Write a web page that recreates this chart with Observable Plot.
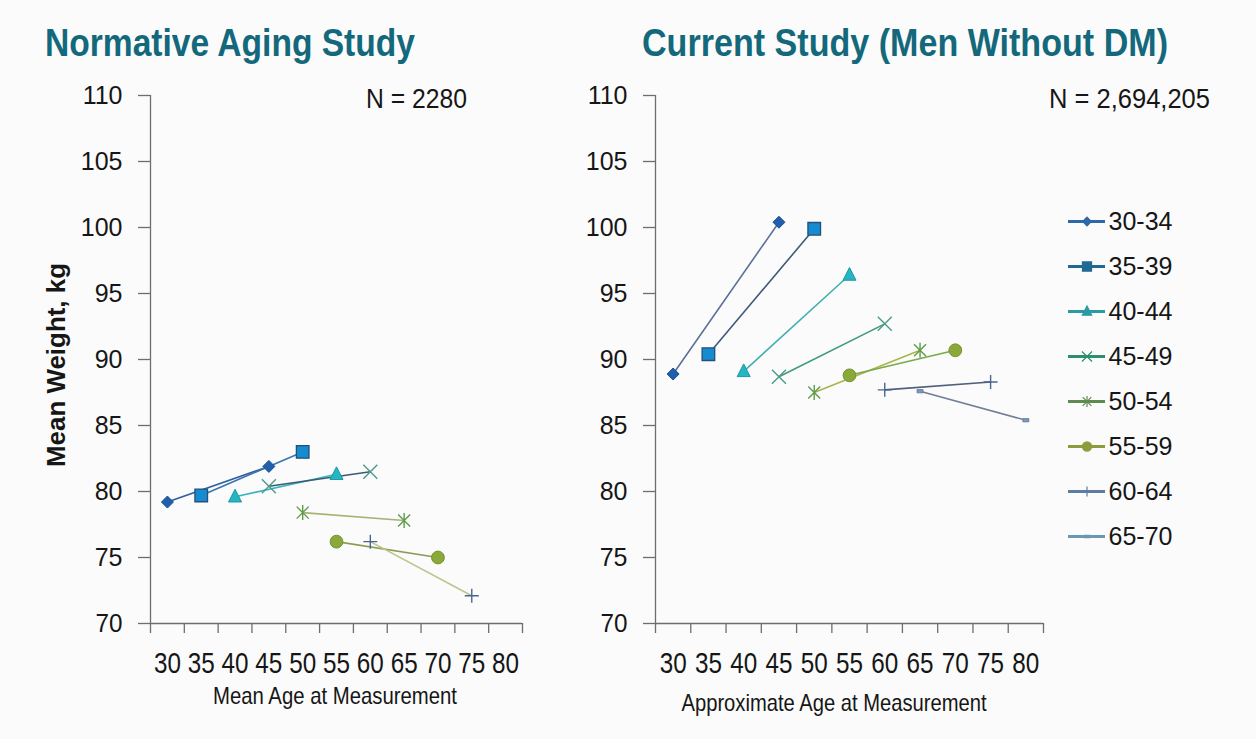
<!DOCTYPE html>
<html><head><meta charset="utf-8">
<script src="https://cdn.jsdelivr.net/npm/d3@7"></script>
<script src="https://cdn.jsdelivr.net/npm/@observablehq/plot@0.6"></script>
<style>
html,body{margin:0;padding:0;background:#fbfbfb;}
#root{position:relative;width:1256px;height:739px;overflow:hidden;background:#fbfbfb;}
</style></head>
<body><div id="root"></div>
<script>
// ---------- data ----------
const groups = ["30-34","35-39","40-44","45-49","50-54","55-59","60-64","65-70"];

const nasStartAge    = [30, 35, 40, 45, 50, 55, 60];
const nasEndAge      = [45, 50, 55, 60, 65, 70, 75];
const nasStartWeight = [79.2, 79.7, 79.6, 80.4, 78.4, 76.2, 76.2];
const nasEndWeight   = [81.9, 83.0, 81.3, 81.5, 77.8, 75.0, 72.1];

const curStartAge    = [30, 35, 40, 45, 50, 55, 60, 65];
const curEndAge      = [45, 50, 55, 60, 65, 70, 75, 80];
const curStartWeight = [88.9, 90.4, 89.1, 88.7, 87.5, 88.8, 87.7, 87.6];
const curEndWeight   = [100.4, 99.9, 96.4, 92.7, 90.7, 90.7, 88.3, 85.4];

const ageTicks    = [30, 35, 40, 45, 50, 55, 60, 65, 70, 75, 80];
const weightTicks = [70, 75, 80, 85, 90, 95, 100, 105, 110];

const panelTitles = ["Normative Aging Study", "Current Study (Men Without DM)"];
const sampleSizes = ["N = 2280", "N = 2,694,205"];
const xTitles     = ["Mean Age at Measurement", "Approximate Age at Measurement"];
const yTitle      = "Mean Weight, kg";

// ---------- styles ----------
const FONT = '"Liberation Sans", Arial, sans-serif';
const AXIS = "#6e6e6e";
const TEXT = "#161616";
const TITLE = "#13697b";

const shapes = {
  diamond:  {draw(c, s){const r=Math.sqrt(s/Math.PI); c.moveTo(0,-r); c.lineTo(r,0); c.lineTo(0,r); c.lineTo(-r,0); c.closePath();}},
  square:   {draw(c, s){const r=Math.sqrt(s/Math.PI); c.rect(-r,-r,2*r,2*r);}},
  triangle: {draw(c, s){const r=Math.sqrt(s/Math.PI); c.moveTo(0,-r*1.15); c.lineTo(r,r*0.8); c.lineTo(-r,r*0.8); c.closePath();}},
  times:    {draw(c, s){const r=Math.sqrt(s/Math.PI); c.moveTo(-r,-r); c.lineTo(r,r); c.moveTo(r,-r); c.lineTo(-r,r);}},
  asterisk: {draw(c, s){const r=Math.sqrt(s/Math.PI); const q=r*0.8; c.moveTo(-q,-q); c.lineTo(q,q); c.moveTo(q,-q); c.lineTo(-q,q); c.moveTo(0,-r); c.lineTo(0,r);}},
  circle:   {draw(c, s){const r=Math.sqrt(s/Math.PI); c.moveTo(r,0); c.arc(0,0,r,0,2*Math.PI);}},
  plus:     {draw(c, s){const r=Math.sqrt(s/Math.PI); c.moveTo(-r,0); c.lineTo(r,0); c.moveTo(0,-r); c.lineTo(0,r);}},
  bar:      {draw(c, s){const r=Math.sqrt(s/Math.PI); c.rect(-r,-r*0.55,2*r,1.1*r);}}
};
const markerStyles = [
  {shape:"diamond",  r:6,   fill:"#1f5fad", stroke:"#1a4f8f", sw:1},
  {shape:"square",   r:6.3, fill:"#168bd0", stroke:"#22507a", sw:1.3},
  {shape:"triangle", r:6.5, fill:"#25b6c2", stroke:"#1a98a4", sw:1},
  {shape:"times",    r:7,   fill:"none",    stroke:"#4d9a8a", sw:1.4},
  {shape:"asterisk", r:7.5, fill:"none",    stroke:"#5f9c4b", sw:1.4},
  {shape:"circle",   r:6.4, fill:"#8aa93a", stroke:"#76942c", sw:1},
  {shape:"plus",     r:7,   fill:"none",    stroke:"#4a6592", sw:1.4},
  {shape:"bar",      r:3,   fill:"#7d98b6", stroke:"#5f7a98", sw:0.8}
];
const nasLineColors = ["#2d5f9e","#3a73ae","#35b5c2","#3c5a72","#a9b273","#8e9b57","#bcc58c","#7a8ba0"];
const curLineColors = ["#5c7199","#405a7c","#43b0b0","#3f9b7a","#a9b54c","#7aaa4a","#4f5f7c","#6f7f94"];
const legendColors  = ["#2e68a8","#1f6a92","#2b9ba2","#2b8f70","#5f8b52","#8c9c3c","#5d7ca2","#6a97b6"];

// ---------- tables ----------
function makeRows(sa, ea, sw, ew) {
  return sa.flatMap((a, i) => [
    {group: groups[i], age: a, weight: sw[i]},
    {group: groups[i], age: ea[i], weight: ew[i]}
  ]);
}
const nasRows = makeRows(nasStartAge, nasEndAge, nasStartWeight, nasEndWeight);
const curRows = makeRows(curStartAge, curEndAge, curStartWeight, curEndWeight);

const xDomain = [ageTicks[0] - 2.5, ageTicks[ageTicks.length - 1] + 2.5];
const boundaries = d3.range(xDomain[0], xDomain[1] + 0.01, 5);
const yDomain = [weightTicks[0], weightTicks[weightTicks.length - 1]];

function panel(rows, lineColors, L) {
  const marks = [
    Plot.ruleX([xDomain[0]], {stroke: AXIS, strokeWidth: 1.3}),
    Plot.ruleY([yDomain[0]], {stroke: AXIS, strokeWidth: 1.3}),
    Plot.axisY({ticks: weightTicks, tickSize: 12, tickPadding: 16, fontSize: 25, fontFamily: FONT,
                stroke: AXIS, strokeWidth: 1.3, fill: TEXT, label: null}),
    Plot.axisX({ticks: boundaries, tickSize: 10, tickFormat: () => "", stroke: AXIS, strokeWidth: 1.3, label: null}),
    Plot.axisX({ticks: ageTicks, tickSize: 0, tickPadding: 28, fontSize: 30, fontFamily: FONT,
                fill: TEXT, label: null})
  ];
  groups.forEach((g, i) => {
    const d = rows.filter(r => r.group === g);
    if (d.length) marks.push(Plot.line(d, {x: "age", y: "weight", stroke: lineColors[i], strokeWidth: 1.6}));
  });
  groups.forEach((g, i) => {
    const d = rows.filter(r => r.group === g);
    const m = markerStyles[i];
    if (d.length) marks.push(Plot.dot(d, {x: "age", y: "weight", symbol: shapes[m.shape], r: m.r,
      fill: m.fill, stroke: m.stroke, strokeWidth: m.sw}));
  });
  const svg = Plot.plot({
    width: L.width, height: 739,
    marginLeft: L.ml, marginRight: L.mr, marginTop: 95, marginBottom: 116,
    x: {domain: xDomain, axis: null, label: null},
    y: {domain: yDomain, axis: null, label: null},
    style: {background: "transparent", overflow: "visible", fontFamily: FONT, color: TEXT},
    marks
  });
  svg.style.left = L.left + "px";
  svg.style.position = "absolute";
  svg.style.top = "0px";
  return svg;
}

// the source uses a condensed face for the age labels: squeeze them to their width
function condenseAgeLabels(svg) {
  svg.querySelectorAll("text").forEach(t => {
    const s = t.textContent.trim();
    if (!ageTicks.map(String).includes(s)) return;
    const tl = t.transform && t.transform.baseVal.consolidate();
    const y = tl ? tl.matrix.f : +(t.getAttribute("y") || 0);
    if (y > 600) {
      t.setAttribute("textLength", 27);
      t.setAttribute("lengthAdjust", "spacingAndGlyphs");
    }
  });
}

const root = document.getElementById("root");
const p1 = panel(nasRows, nasLineColors, {left: 0, width: 628, ml: 150, mr: 106});
const p2 = panel(curRows, curLineColors, {left: 560, width: 696, ml: 95, mr: 213});
root.appendChild(p1); root.appendChild(p2);
condenseAgeLabels(p1); condenseAgeLabels(p2);

// ---------- legend ----------
const legendMarks = [
  Plot.ruleY(groups, {y: d => d, x1: 0, x2: 1, stroke: (d) => legendColors[groups.indexOf(d)], strokeWidth: 3}),
  Plot.text(groups, {y: d => d, x: 1, text: d => d, textAnchor: "start", dx: 3, fontSize: 25, fontFamily: FONT, fill: TEXT})
];
groups.forEach((g, i) => {
  const m = markerStyles[i];
  legendMarks.push(Plot.dot([g], {y: d => d, x: 0.5, symbol: shapes[m.shape], r: m.r * 0.72,
    fill: m.fill === "none" ? "none" : legendColors[i], stroke: legendColors[i], strokeWidth: 1.2}));
});
const legend = Plot.plot({
  width: 188, height: 739, marginLeft: 0, marginRight: 151, marginTop: 219, marginBottom: 739 - 537,
  x: {domain: [0, 1], axis: null},
  y: {type: "point", domain: groups, padding: 0, axis: null},
  style: {background: "transparent", overflow: "visible"},
  marks: legendMarks
});
legend.style.position = "absolute"; legend.style.left = "1068px"; legend.style.top = "0px";
root.appendChild(legend);

// ---------- titles / annotations ----------
const ov = d3.select(root).append("svg")
  .attr("width", 1256).attr("height", 739)
  .style("position", "absolute").style("left", 0).style("top", 0).style("pointer-events", "none");

function txt(s, o) {
  const t = ov.append("text").text(s)
    .attr("x", o.x).attr("y", o.y)
    .attr("font-family", FONT).attr("font-size", o.size)
    .attr("font-weight", o.weight || "normal").attr("fill", o.color || TEXT)
    .attr("text-anchor", o.anchor || "start");
  if (o.len) t.attr("textLength", o.len).attr("lengthAdjust", "spacingAndGlyphs");
  if (o.rotate) t.attr("transform", `rotate(${o.rotate},${o.x},${o.y})`);
  return t;
}
txt(panelTitles[0], {x: 45, y: 56, size: 38, weight: "bold", color: TITLE, len: 370});
txt(panelTitles[1], {x: 642, y: 56, size: 38, weight: "bold", color: TITLE, len: 526});
txt(sampleSizes[0], {x: 366, y: 108, size: 28, len: 101});
txt(sampleSizes[1], {x: 1049, y: 108, size: 28, len: 161});
txt(xTitles[0], {x: 335, y: 704, size: 24, anchor: "middle", len: 244});
txt(xTitles[1], {x: 834, y: 711, size: 24, anchor: "middle", len: 305});
txt(yTitle, {x: 65, y: 365, size: 26, weight: "bold", anchor: "middle", len: 204, rotate: -90});
</script>
</body></html>
